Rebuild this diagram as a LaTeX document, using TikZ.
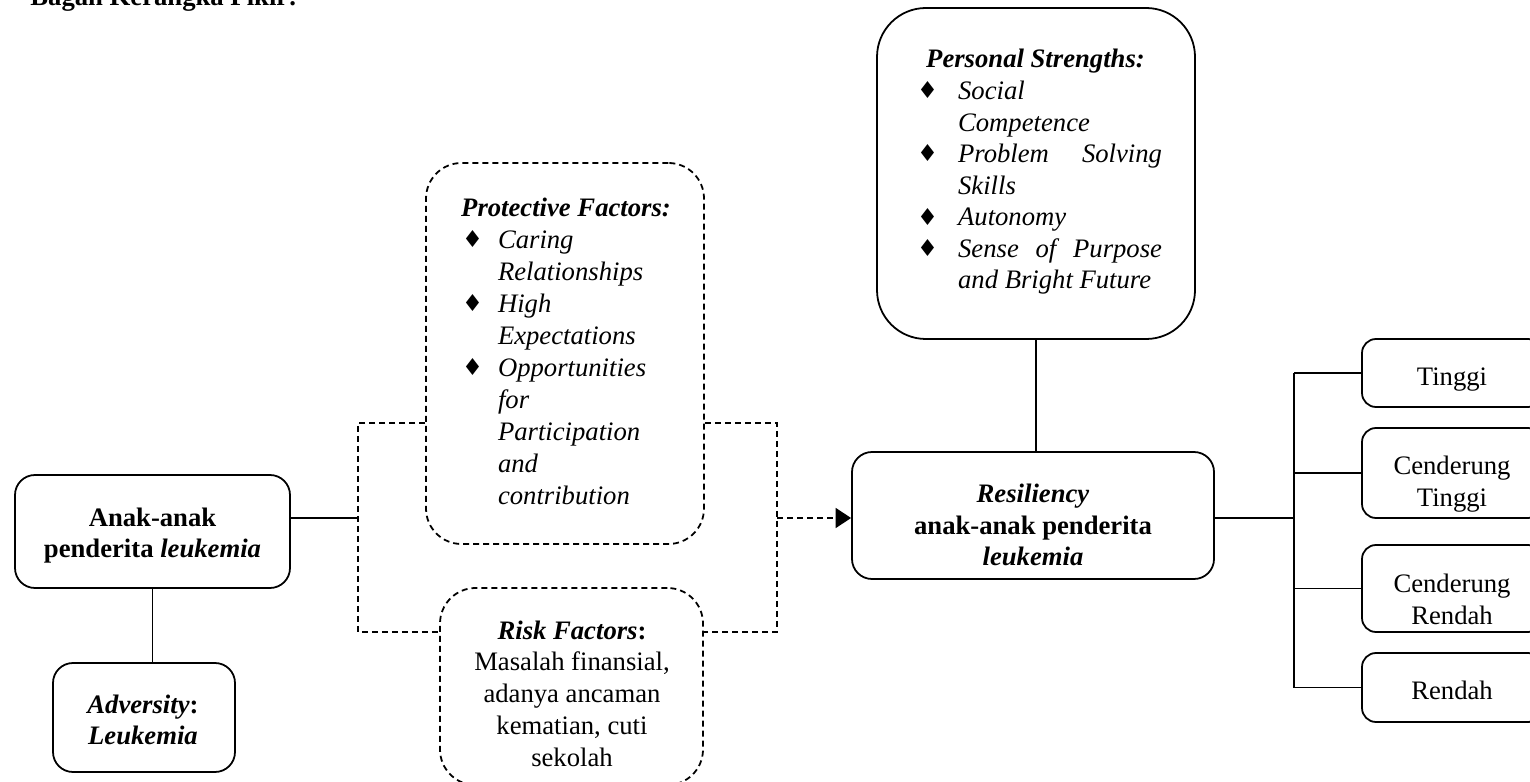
\documentclass[tikz,border=0pt]{standalone}
\usepackage{fontspec}
\setmainfont{Liberation Serif}
\newfontfamily\bulfont{DejaVu Sans}
\usetikzlibrary{arrows.meta}
\newcommand{\bulglyph}{\raisebox{0.3pt}{\upshape\bulfont\fontsize{10.5}{10.5}\selectfont ♦}}
\newcommand{\bulA}{\makebox[16.2pt][l]{\bulglyph}}
\newcommand{\indA}{\hspace*{16.2pt}}
\newcommand{\bulB}{\makebox[18.5pt][l]{\bulglyph}}
\newcommand{\indB}{\hspace*{18.5pt}}
\begin{document}
\begin{tikzpicture}[x=0.45pt,y=-0.45pt,
  every node/.style={font=\fontsize{12}{14.3}\selectfont, inner sep=0pt},
  tb/.style={align=center, font=\fontsize{12}{14.3}\selectfont\bfseries},
  tn/.style={align=center, font=\fontsize{12}{14.3}\selectfont},
  sbox/.style={draw, line width=0.8pt, rounded corners=#1},
  dbox/.style={draw, line width=0.8pt, rounded corners=#1, dash pattern=on 2.7pt off 1.8pt},
  conn/.style={line width=0.8pt},
  dconn/.style={line width=0.8pt, dash pattern=on 2.7pt off 1.8pt, line join=miter},
]
\useasboundingbox[fill=white] (0,0) rectangle (1530,782);

% title (partly cut at the top, as in the reference)
\node[tb, anchor=base west] (title) at (30,6) {Bagan Kerangka Pikir:};

% left column
\node[sbox=9pt, minimum width=123.75pt, minimum height=50.85pt] (anak) at (152.5,531.5) {};
\node[tb] (anakT) at (152.5,535.5) {Anak-anak\\penderita \textit{leukemia}};
\node[sbox=9pt, minimum width=81.9pt, minimum height=49.05pt] (adv) at (144,717.5) {};
\node[tb] (advT) at (143,720) {\textit{Adversity}:\\\textit{Leukemia}};

% protective factors
\node[dbox=16pt, minimum width=125.1pt, minimum height=171.45pt] (prot) at (565,353.5) {};
\node (protT) at (566,351) {\fontsize{12}{14.4}\selectfont\begin{minipage}{93.6pt}\itshape
\makebox[\linewidth]{\bfseries Protective Factors:}\\
\bulA Caring\\
\indA Relationships\\
\bulA High\\
\indA Expectations\\
\bulA Opportunities\\
\indA for\\
\indA Participation\\
\indA and\\
\indA contribution
\end{minipage}};

% risk factors
\node[dbox=16pt, minimum width=118.35pt, minimum height=88.65pt] (risk) at (571.5,686.5) {};
\node[tn] (riskT) at (572,693.5) {\textbf{\textit{Risk Factors}:}\\Masalah finansial,\\adanya ancaman\\kematian, cuti\\sekolah};

% personal strengths
\node[sbox=22pt, minimum width=143.1pt, minimum height=148.95pt] (pers) at (1036,173.5) {};
\node (persT) at (1039.5,172) {\fontsize{12}{14.2}\selectfont\begin{minipage}{110.25pt}\itshape
\makebox[\linewidth]{\hspace*{-3.6pt}\bfseries Personal Strengths:}\\
\bulB Social\\
\indB Competence\\
\bulB\makebox[91.75pt][l]{Problem\hfill Solving}\\
\indB Skills\\
\bulB Autonomy\\
\bulB\makebox[91.75pt][l]{Sense\hfill of\hfill Purpose}\\
\indB and Bright Future
\end{minipage}};

% resiliency
\node[sbox=9pt, minimum width=162.9pt, minimum height=57.15pt] (res) at (1033,515.5) {};
\node[tb] (resT) at (1033,525) {\textit{Resiliency}\\anak-anak penderita\\\textit{leukemia}};

% outcome boxes
\node[sbox=6.3pt, minimum width=81pt, minimum height=30.6pt] (t1) at (1452,373) {};
\node[tn] (t1T) at (1452,380) {Tinggi};
\node[sbox=6.3pt, minimum width=81pt, minimum height=40.5pt] (t2) at (1452,473) {};
\node[tn] (t2T) at (1452,484) {Cenderung\\Tinggi};
\node[sbox=6.3pt, minimum width=81pt, minimum height=39.15pt] (t3) at (1452,588.5) {};
\node[tn] (t3T) at (1452,599) {Cenderung\\Rendah};
\node[sbox=6.3pt, minimum width=81pt, minimum height=31.05pt] (t4) at (1452,687.5) {};
\node[tn] (t4T) at (1452,690) {Rendah};

% junction coordinates
\coordinate (jl) at (358,518);
\coordinate (jr) at (777,518);
\coordinate (ltop) at (358,423);
\coordinate (lbot) at (358,632);
\coordinate (rtop) at (777,423);
\coordinate (rbot) at (777,632);
\coordinate (bus) at (1294,518);

% connectors
\draw[conn] (anak.south) -- (anak.south |- adv.north);
\draw[conn] (anak.east |- jl) -- (jl);
\draw[dconn] (prot.west |- ltop) -- (ltop) -- (lbot) -- (risk.west |- lbot);
\draw[dconn] (prot.east |- rtop) -- (rtop) -- (rbot) -- (risk.east |- rbot);
\draw[dconn, -{Triangle[length=7pt, width=9pt]}] (jr) -- (res.west |- jr);
\draw[conn] (pers.south) -- (pers.south |- res.north);
\draw[conn] (res.east |- bus) -- (bus);
\draw[conn] (bus |- t1.west) -- (bus |- t4.west);
\draw[conn] (bus |- t1.west) -- (t1.west);
\draw[conn] (bus |- t2.west) -- (t2.west);
\draw[conn] (bus |- t3.west) -- (t3.west);
\draw[conn] (bus |- t4.west) -- (t4.west);
\end{tikzpicture}
\end{document}
